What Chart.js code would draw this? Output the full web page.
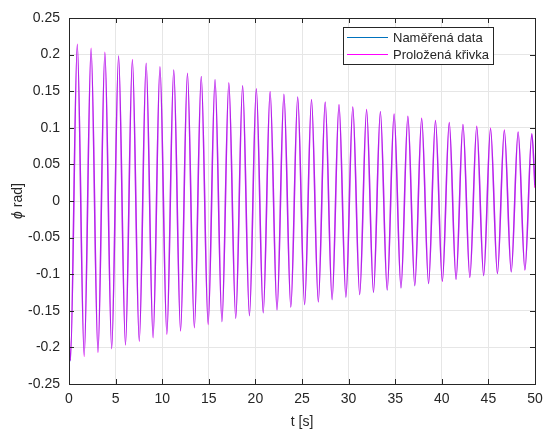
<!DOCTYPE html>
<html>
<head>
<meta charset="utf-8">
<script src="https://cdn.jsdelivr.net/npm/chart.js@4"></script>
<style>
html, body { margin: 0; padding: 0; background: #fff; }
#wrap { width: 543px; height: 429px; }
</style>
</head>
<body>
<div id="wrap"><canvas id="chart"></canvas></div>
<script>
// legend labels and axis titles
const seriesNames = ['Naměřená data', 'Proložená křivka'];
const xTitle = 't [s]';
const yTitleSymbol = 'ϕ';
const yTitleRest = ' rad]';

// first and last sample of the record
const edgeT = [0, 50];
const edgePhiMeasured = [-0.176, 0.022];
const edgePhiFitted = [-0.174, 0.018];

// times of the minima (troughs) and maxima (peaks)
const troughT = [0.15, 1.63, 3.11, 4.58, 6.06, 7.54, 9.02, 10.50, 11.97, 13.45, 14.93, 16.41,
    17.89, 19.36, 20.84, 22.32, 23.80, 25.28, 26.75, 28.23, 29.71, 31.19, 32.67, 34.14,
    35.62, 37.10, 38.58, 40.06, 41.53, 43.01, 44.49, 45.97, 47.45, 48.92];
const peakT = [0.89, 2.37, 3.85, 5.32, 6.80, 8.28, 9.76, 11.24, 12.71, 14.19, 15.67, 17.15,
    18.63, 20.10, 21.58, 23.06, 24.54, 26.02, 27.49, 28.97, 30.45, 31.93, 33.41, 34.88,
    36.36, 37.84, 39.32, 40.80, 42.27, 43.75, 45.23, 46.71, 48.19, 49.66];

// measured data: values at troughs and peaks
const troughMeasured = [-0.219, -0.210, -0.206, -0.201, -0.196, -0.191, -0.186, -0.181, -0.177, -0.172, -0.167, -0.165,
    -0.160, -0.157, -0.153, -0.149, -0.145, -0.142, -0.138, -0.135, -0.132, -0.128, -0.125, -0.122,
    -0.119, -0.116, -0.113, -0.109, -0.107, -0.104, -0.102, -0.099, -0.097, -0.094];
const peakMeasured = [0.213, 0.207, 0.202, 0.198, 0.192, 0.188, 0.183, 0.179, 0.174, 0.170, 0.166, 0.161,
    0.1575, 0.153, 0.149, 0.146, 0.142, 0.138, 0.135, 0.131, 0.128, 0.124, 0.122, 0.118,
    0.115, 0.112, 0.109, 0.1066, 0.104, 0.101, 0.098, 0.0956, 0.0938, 0.0915];

// fitted curve: values at troughs and peaks
const troughFitted = [-0.2178, -0.2123, -0.2069, -0.2017, -0.1967, -0.1917, -0.1869, -0.1822, -0.1776, -0.1732, -0.1688, -0.1646,
    -0.1604, -0.1565, -0.1525, -0.1487, -0.1449, -0.1414, -0.1378, -0.1344, -0.1310, -0.1277, -0.1245, -0.1214,
    -0.1184, -0.1154, -0.1125, -0.1097, -0.1069, -0.1043, -0.1017, -0.0991, -0.0966, -0.0942];
const peakFitted = [0.2140, 0.2086, 0.2033, 0.1982, 0.1932, 0.1883, 0.1835, 0.1789, 0.1744, 0.1700, 0.1657, 0.1615,
    0.1574, 0.1535, 0.1496, 0.1458, 0.1421, 0.1386, 0.1351, 0.1317, 0.1283, 0.1251, 0.1219, 0.1189,
    0.1159, 0.1129, 0.1101, 0.1073, 0.1046, 0.1020, 0.0994, 0.0969, 0.0944, 0.0920];

const xTicks = [0, 5, 10, 15, 20, 25, 30, 35, 40, 45, 50];
const yTicks = [-0.25, -0.2, -0.15, -0.1, -0.05, 0, 0.05, 0.1, 0.15, 0.2, 0.25];

function buildPoints(edges, troughs, peaks) {
    let pts = [{ x: edgeT[0], y: edges[0] }];
    for (let i = 0; i < peakT.length; i++) {
        pts.push({ x: troughT[i], y: troughs[i] });
        pts.push({ x: peakT[i], y: peaks[i] });
    }
    pts.push({ x: edgeT[1], y: edges[1] });
    return pts;
}

const blue = '#0072bd';
const magenta = '#ff00ff';
const legendColors = [blue, magenta];
const axisColor = '#262626';
const font = "'Liberation Sans', Arial, Helvetica, sans-serif";

// box round the axes, inward ticks, y title and the legend box inside the plot
const framePlugin = {
    id: 'frame',
    afterDraw(chart) {
        const ctx = chart.ctx;
        const a = chart.chartArea;
        const xs = chart.scales.x, ys = chart.scales.y;
        ctx.save();
        ctx.strokeStyle = axisColor;
        ctx.lineWidth = 1;
        ctx.beginPath();
        xTicks.forEach(v => {
            const px = Math.round(xs.getPixelForValue(v)) + 0.5;
            ctx.moveTo(px, a.bottom); ctx.lineTo(px, a.bottom - 5);
            ctx.moveTo(px, a.top); ctx.lineTo(px, a.top + 5);
        });
        yTicks.forEach(v => {
            const py = Math.round(ys.getPixelForValue(v)) + 0.5;
            ctx.moveTo(a.left, py); ctx.lineTo(a.left + 5, py);
            ctx.moveTo(a.right, py); ctx.lineTo(a.right - 5, py);
        });
        ctx.stroke();
        ctx.strokeRect(Math.round(a.left) + 0.5, Math.round(a.top) + 0.5,
            Math.round(a.right - a.left), Math.round(a.bottom - a.top));

        // y axis title with italic phi
        ctx.fillStyle = axisColor;
        ctx.translate(22, (a.top + a.bottom) / 2);
        ctx.rotate(-Math.PI / 2);
        ctx.textBaseline = 'alphabetic';
        ctx.font = 'italic 14px ' + font;
        const w1 = ctx.measureText(yTitleSymbol).width;
        ctx.font = '14px ' + font;
        const w2 = ctx.measureText(yTitleRest).width;
        ctx.font = 'italic 14px ' + font;
        ctx.fillText(yTitleSymbol, -(w1 + w2) / 2, 0);
        ctx.font = '14px ' + font;
        ctx.fillText(yTitleRest, -(w1 + w2) / 2 + w1, 0);
        ctx.setTransform(1, 0, 0, 1, 0, 0);

        // legend
        const lx = 343, ly = 27, lw = 150, lh = 37;
        ctx.fillStyle = '#fff';
        ctx.fillRect(lx, ly, lw, lh);
        ctx.strokeStyle = axisColor;
        ctx.strokeRect(lx + 0.5, ly + 0.5, lw, lh);
        ctx.font = '13px ' + font;
        ctx.textBaseline = 'middle';
        ctx.textAlign = 'left';
        chart.data.datasets.forEach((ds, i) => {
            const y = ly + 10 + i * 17;
            ctx.strokeStyle = legendColors[i];
            ctx.beginPath();
            ctx.moveTo(lx + 4, y + 0.5); ctx.lineTo(lx + 45, y + 0.5);
            ctx.stroke();
            ctx.fillStyle = axisColor;
            ctx.fillText(ds.label, lx + 50, y + 1);
        });
        ctx.restore();
    }
};

new Chart(document.getElementById('chart'), {
    type: 'line',
    data: {
        datasets: [
            {
                label: seriesNames[0],
                data: buildPoints(edgePhiMeasured, troughMeasured, peakMeasured),
                borderColor: 'rgba(0, 114, 189, 0.3)',
                borderWidth: 1.5,
                pointRadius: 0,
                cubicInterpolationMode: 'monotone',
                order: 1,
            },
            {
                label: seriesNames[1],
                data: buildPoints(edgePhiFitted, troughFitted, peakFitted),
                borderColor: magenta,
                borderWidth: 1.5,
                pointRadius: 0,
                cubicInterpolationMode: 'monotone',
                order: 2,
            }
        ]
    },
    options: {
        responsive: true,
        maintainAspectRatio: false,
        animation: false,
        layout: { padding: { left: 0, right: 0, top: 18, bottom: 0 } },
        plugins: {
            legend: { display: false },
            tooltip: { enabled: false },
        },
        scales: {
            x: {
                type: 'linear',
                min: 0,
                max: 50,
                afterBuildTicks: s => { s.ticks = xTicks.map(v => ({ value: v })); },
                afterFit: s => { s.height = 45; s.paddingLeft = 0; s.paddingRight = 8; },
                grid: { color: '#e6e6e6', drawTicks: false },
                border: { display: false },
                ticks: { color: axisColor, font: { family: font, size: 14 }, padding: 7, maxRotation: 0 },
                title: { display: true, text: xTitle, color: axisColor, font: { family: font, size: 14 }, padding: { top: 0, bottom: -2 } },
            },
            y: {
                min: -0.25,
                max: 0.25,
                afterBuildTicks: s => { s.ticks = yTicks.map(v => ({ value: v })); },
                afterFit: s => { s.width = 69; },
                grid: { color: '#e6e6e6', drawTicks: false },
                border: { display: false },
                ticks: { color: axisColor, font: { family: font, size: 14 }, padding: 9,
                    callback: v => String(Math.round(v * 100) / 100) },
            }
        }
    },
    plugins: [framePlugin]
});
</script>
</body>
</html>
